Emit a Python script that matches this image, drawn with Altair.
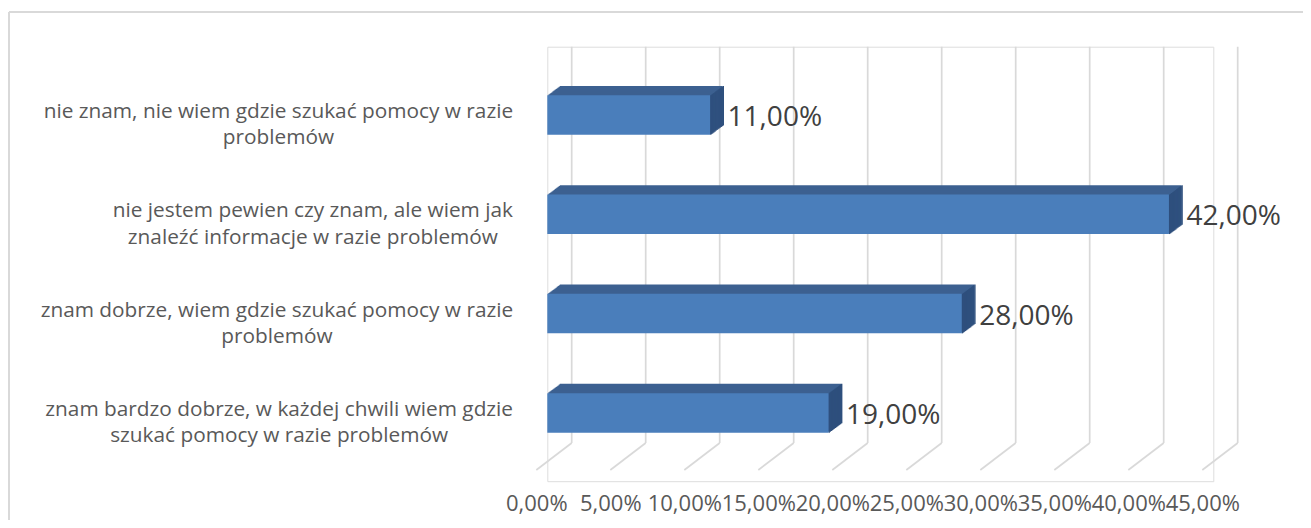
import altair as alt
import pandas as pd

# ---------------- data ----------------
title_text = "problemów:"
categories = [
    "nie znam, nie wiem gdzie szukać pomocy w razie problemów",
    "nie jestem pewien czy znam, ale wiem jak znaleźć informacje w razie problemów",
    "znam dobrze, wiem gdzie szukać pomocy w razie problemów",
    "znam bardzo dobrze, w każdej chwili wiem gdzie szukać pomocy w razie problemów",
]
label_lines = [
    ["nie znam, nie wiem gdzie szukać pomocy w razie", "problemów"],
    ["nie jestem pewien czy znam, ale wiem jak", "znaleźć informacje w razie problemów"],
    ["znam dobrze, wiem gdzie szukać pomocy w razie", "problemów"],
    ["znam bardzo dobrze, w każdej chwili wiem gdzie", "szukać pomocy w razie problemów"],
]
values = [11.0, 42.0, 28.0, 19.0]
tick_values = [0, 5, 10, 15, 20, 25, 30, 35, 40, 45]

# ---------------- layout / style ----------------
FONT = "Open Sans"
PX_PER_UNIT = 14.8
W = 45 * PX_PER_UNIT
LEFT, TOP = 539.3, 38.7
TOTAL_W, TOTAL_H = 1295, 512
STEP = 99.3
OUTER = 0.1878
H = STEP * (4 + 2 * OUTER)
BAR_H = 39.5
DEPTH_X, DEPTH_Y, N_LAYERS = 12.5, 9.3, 12
BACK_DX, FLOOR_DX = 24.4, -11.0
WALL_BOTTOM, FLOOR_FRONT = 396.3, 423.3
LABEL_FS = 20.8
LABEL_RIGHT = -34.3

FRONT_C, TOP_C, SIDE_C = "#4a7ebb", "#3c6191", "#2e4f7d"
GRID_C = "#d9d9d9"

# approximate Open Sans advance widths (em) to centre wrapped labels like Excel
EM = {" ": 0.26, ",": 0.245, "a": 0.556, "b": 0.613, "c": 0.476, "d": 0.613,
      "e": 0.561, "f": 0.339, "g": 0.548, "h": 0.614, "i": 0.253, "j": 0.253,
      "k": 0.525, "l": 0.253, "m": 0.93, "n": 0.614, "o": 0.604, "p": 0.613,
      "r": 0.408, "s": 0.477, "t": 0.353, "u": 0.614, "w": 0.783, "y": 0.501,
      "z": 0.46, "ć": 0.476, "ż": 0.46, "ź": 0.46, "ó": 0.604, "ł": 0.27}


def text_w(s):
    return sum(EM.get(ch, 0.55) for ch in s) * LABEL_FS


df = pd.DataFrame({
    "cat": categories,
    "v": values,
    "lines": label_lines,
    "cx": [LABEL_RIGHT - max(text_w(l) for l in ls) / 2 for ls in label_lines],
})
ticks_df = pd.DataFrame({"t": tick_values})
one = pd.DataFrame({"a": [0]})

xscale = alt.Scale(domain=[0, 45], nice=False, zero=True)
xaxis = alt.Axis(values=tick_values, title=None, grid=False, domain=False,
                 ticks=False, tickSize=0, labelPadding=22, labelOffset=-11,
                 labelBaseline="middle", labelFont=FONT, labelFontSize=22,
                 labelColor="#595959", labelFlush=False, labelOverlap=False,
                 labelExpr="replace(format(datum.value, '.2f'), '.', ',') + '%'")
yenc = alt.Y("cat:N", sort=categories, axis=None,
             scale=alt.Scale(paddingInner=0, paddingOuter=OUTER))

layers = []

# back-wall gridlines and their floor diagonals
layers.append(alt.Chart(ticks_df).mark_rule(color=GRID_C, strokeWidth=1.7, xOffset=BACK_DX)
              .encode(x=alt.X("t:Q", scale=xscale, axis=xaxis),
                      y=alt.value(0), y2=alt.value(WALL_BOTTOM)))
layers.append(alt.Chart(ticks_df).mark_rule(color=GRID_C, strokeWidth=1.7,
                                            xOffset=BACK_DX, x2Offset=FLOOR_DX)
              .encode(x=alt.X("t:Q", scale=xscale, axis=xaxis), x2="t:Q",
                      y=alt.value(WALL_BOTTOM), y2=alt.value(FLOOR_FRONT)))

# 3D extrusion (top face colour)
for i in range(N_LAYERS, 0, -1):
    ox = DEPTH_X * i / N_LAYERS
    oy = -DEPTH_Y * i / N_LAYERS
    layers.append(alt.Chart(df).mark_bar(height=BAR_H, color=TOP_C, xOffset=ox,
                                         x2Offset=ox, yOffset=oy)
                  .encode(x=alt.X("v:Q", scale=xscale, axis=xaxis), y=yenc))
# side face strips
for i in range(0, N_LAYERS + 1):
    ox = DEPTH_X * i / N_LAYERS
    oy = -DEPTH_Y * i / N_LAYERS
    layers.append(alt.Chart(df).mark_bar(height=BAR_H, color=SIDE_C, xOffset=ox,
                                         x2Offset=ox + 1.4, yOffset=oy)
                  .encode(x=alt.X("v:Q", scale=xscale, axis=xaxis), x2="v:Q", y=yenc))
# front face
layers.append(alt.Chart(df).mark_bar(height=BAR_H, color=FRONT_C)
              .encode(x=alt.X("v:Q", scale=xscale, axis=xaxis), y=yenc))

# data labels
layers.append(alt.Chart(df).transform_calculate(
    lab="replace(format(datum.v, '.2f'), '.', ',') + '%'"
).mark_text(align="left", baseline="middle", dx=17.5, dy=3, font=FONT,
            fontSize=28, color="#404040")
    .encode(x=alt.X("v:Q", scale=xscale, axis=xaxis), y=yenc, text="lab:N"))

# category labels (wrapped, centred, right-aligned block)
layers.append(alt.Chart(df).mark_text(align="center", baseline="middle", dy=-3,
                                      lineHeight=26.5, font=FONT, fontSize=LABEL_FS,
                                      color="#595959")
              .encode(x=alt.X("cx:Q", scale=None, axis=None), y=yenc, text="lines"))

# outer frame (left and top edges)
layers.append(alt.Chart(one).mark_rule(color="#d9d9d9", strokeWidth=2)
              .encode(x=alt.value(-LEFT + 1), y=alt.value(-TOP + 4),
                      y2=alt.value(TOTAL_H - TOP + 5)))
layers.append(alt.Chart(one).mark_rule(color="#d9d9d9", strokeWidth=2)
              .encode(x=alt.value(-LEFT + 1), x2=alt.value(TOTAL_W - LEFT + 5),
                      y=alt.value(-TOP + 4)))

chart = alt.layer(*layers).properties(
    width=W, height=H,
    padding={"left": LEFT, "top": TOP, "right": TOTAL_W - LEFT - W,
             "bottom": TOTAL_H - TOP - H},
    autosize=alt.AutoSizeParams(type="none"),
).configure_view(stroke=None).configure(background="white")

chart.save("out.html", embed_options={"renderer": "svg", "actions": False})
